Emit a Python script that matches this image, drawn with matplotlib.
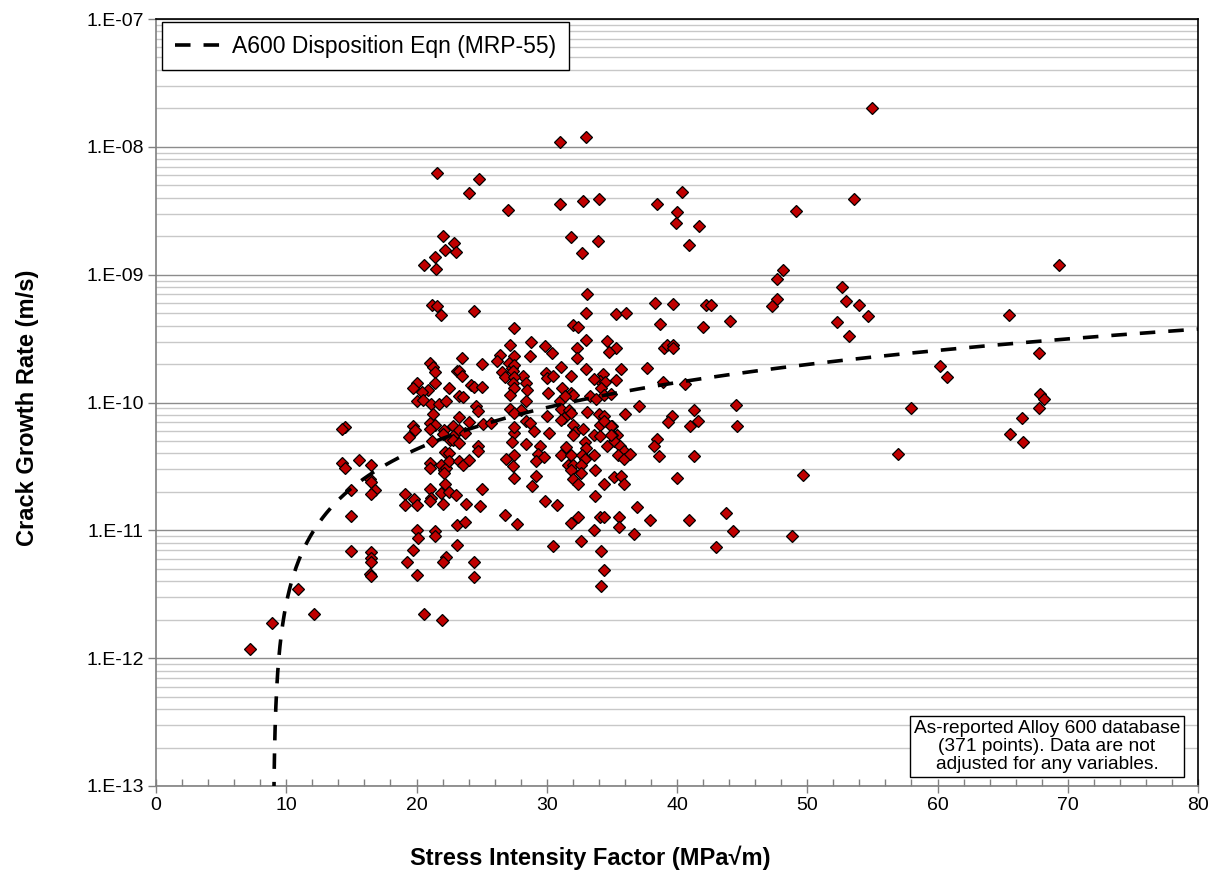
import numpy as np
import matplotlib
matplotlib.use("Agg")
import matplotlib.pyplot as plt
from matplotlib.ticker import FixedLocator, MultipleLocator, FuncFormatter, NullFormatter

plt.rcParams['font.family'] = ['Liberation Sans', 'DejaVu Sans']

# MRP-55 disposition curve constants (325 C)
alpha = 2.67e-12
beta = 1.16
k_th = 9.0

# as-reported Alloy 600 data: K (MPa*sqrt(m)) and log10 of rate (m/s)
k_high = [55.0, 53.6, 49.1, 69.3, 48.1, 47.7, 52.7, 47.7, 47.3, 53.0, 54.0,
          31.0, 33.0, 21.6, 24.8, 24.0, 27.0, 31.0, 32.8, 34.0, 38.5, 40.4, 40.0,
          39.9, 41.7, 40.9, 22.0, 22.9, 22.2, 23.0, 21.4, 20.6, 21.5, 31.9, 33.9,
          32.7, 33.1, 38.3, 39.7, 42.2, 42.6]
log_high = [-7.70, -8.405, -8.504, -8.928, -8.967, -9.035, -9.095, -9.194, -9.249, -9.207, -9.236,
            -7.959, -7.922, -8.204, -8.253, -8.360, -8.496, -8.444, -8.423, -8.407, -8.444, -8.355, -8.509,
            -8.592, -8.623, -8.767, -8.696, -8.751, -8.808, -8.824, -8.863, -8.923, -8.957, -8.709, -8.738,
            -8.829, -9.155, -9.220, -9.231, -9.236, -9.236]

k_right = [42.0, 44.1, 52.3, 54.7, 53.2, 65.5, 67.8, 60.2, 60.7, 67.9, 68.2, 67.8,
           44.5, 44.6, 58.0, 66.5, 65.6, 66.6, 57.0, 49.7, 43.8, 44.3, 48.8, 43.0]
log_right = [-9.413, -9.359, -9.372, -9.325, -9.476, -9.319, -9.614, -9.716, -9.804, -9.932, -9.971, -10.044,
             -10.021, -10.185, -10.044, -10.122, -10.245, -10.310, -10.404, -10.570, -10.865, -11.003, -11.045, -11.128]

k_mid_right = [35.3, 36.1, 38.7, 39.0, 39.2, 39.7, 39.7, 35.7, 37.7, 38.9, 40.6, 37.1,
               36.0, 39.6, 39.3, 41.3, 41.65, 41.0,
               35.0, 35.4, 35.0, 35.2, 35.6, 35.9, 35.5, 35.9, 36.4, 38.5, 38.2, 38.65,
               41.3, 35.2, 35.7, 35.9, 40.0, 36.9, 35.55, 35.55, 37.9, 40.9, 36.7]
log_mid_right = [-9.309, -9.301, -9.385, -9.575, -9.549, -9.549, -9.575, -9.739, -9.731, -9.836, -9.856, -10.026,
                 -10.091, -10.104, -10.156, -10.057, -10.143, -10.182,
                 -10.182, -10.252, -10.252, -10.304, -10.338, -10.383, -10.409, -10.443, -10.403, -10.284, -10.338, -10.422,
                 -10.416, -10.586, -10.578, -10.635, -10.591, -10.818, -10.899, -10.977, -10.922, -10.922, -11.032]

k_mid = [33.0, 32.0, 32.4, 28.8, 29.9, 30.4, 33.0, 34.6, 32.3, 35.3, 34.8, 28.7,
         32.3, 31.1, 33.0, 29.95, 30.0, 30.5, 31.9, 34.3, 34.1, 34.5, 33.6, 35.3,
         28.2, 28.4, 28.5, 31.2, 31.9, 32.0, 30.1, 33.3, 33.8, 34.2, 34.4, 34.9,
         31.0, 31.4, 28.4, 28.0, 31.1, 31.7, 31.9, 30.0, 31.3, 33.1, 34.0, 34.4,
         28.4, 28.7, 29.0, 30.2, 31.1, 32.0, 32.2, 32.0, 32.8, 34.1, 34.4, 34.9,
         33.6, 34.1, 34.9, 34.6, 28.4, 29.5, 29.3, 29.2, 29.8, 31.5, 32.9, 33.0,
         31.1, 31.9, 32.7, 33.6, 32.9, 31.6, 32.0, 31.9, 32.6, 32.6, 33.7, 29.2,
         28.9, 32.0, 32.4, 34.4, 29.9, 30.8, 33.7, 32.4, 31.9, 34.1, 34.4, 33.6]
log_mid = [-9.296, -9.392, -9.413, -9.528, -9.557, -9.609, -9.510, -9.515, -9.575, -9.570, -9.606, -9.635,
           -9.653, -9.723, -9.739, -9.770, -9.809, -9.791, -9.791, -9.776, -9.828, -9.836, -9.815, -9.823,
           -9.791, -9.849, -9.901, -9.888, -9.927, -9.940, -9.922, -9.953, -9.974, -9.888, -9.940, -9.932,
           -9.992, -9.953, -9.992, -10.062, -10.052, -10.057, -10.083, -10.104, -10.122, -10.075, -10.088, -10.109,
           -10.148, -10.161, -10.221, -10.239, -10.135, -10.174, -10.234, -10.252, -10.208, -10.174, -10.148, -10.187,
           -10.252, -10.265, -10.252, -10.343, -10.325, -10.343, -10.403, -10.461, -10.429, -10.349, -10.312, -10.357,
           -10.409, -10.409, -10.409, -10.409, -10.443, -10.487, -10.487, -10.526, -10.487, -10.552, -10.526, -10.578,
           -10.656, -10.599, -10.638, -10.638, -10.773, -10.799, -10.734, -10.893, -10.943, -10.896, -10.896, -10.995]

k_mid_left = [21.2, 21.6, 21.9, 24.4, 27.5, 27.2, 27.5, 23.5, 25.0, 26.4, 26.2, 27.1,
              27.3, 27.5, 21.0, 21.3, 21.4, 23.1, 23.3, 23.5, 26.6, 26.8, 27.4, 27.5,
              20.0, 19.7, 21.4, 20.9, 20.4, 22.5, 24.2, 24.4, 25.0, 27.4, 27.5, 27.2,
              23.3, 23.6, 20.0, 20.5, 21.1, 21.7, 22.3, 24.6, 24.7, 27.2, 27.5, 21.3,
              23.3,
              21.0, 21.4, 21.0, 22.1, 22.0, 22.8, 23.3, 23.7, 24.0, 25.1, 25.7, 22.8,
              22.6, 22.8, 23.3, 21.2, 24.7, 24.7, 22.2, 22.5, 27.5, 27.5, 27.3, 27.5,
              26.9, 27.4, 21.0, 21.0, 21.9, 22.1, 22.3, 22.5, 23.3, 23.6, 24.0, 22.1,
              27.5, 22.2, 21.0, 21.9, 22.5, 23.0, 25.0, 21.1, 21.0, 19.8, 20.0, 22.0,
              23.8, 24.9, 26.8, 27.75, 23.1, 23.7, 20.0, 21.4, 20.1, 21.4]
log_mid_left = [-9.236, -9.244, -9.312, -9.283, -9.419, -9.549, -9.635, -9.653, -9.700, -9.632, -9.674, -9.692,
                -9.731, -9.705, -9.692, -9.726, -9.763, -9.757, -9.750, -9.796, -9.765, -9.804, -9.757, -9.797,
                -9.849, -9.888, -9.849, -9.901, -9.914, -9.888, -9.861, -9.880, -9.880, -9.849, -9.888, -9.940,
                -9.953, -9.958, -9.992, -9.979, -10.010, -10.010, -9.987, -10.026, -10.070, -10.052, -10.083, -10.091,
                -10.114,
                -10.161, -10.174, -10.208, -10.213, -10.244, -10.187, -10.213, -10.239, -10.156, -10.169, -10.161, -10.260,
                -10.297, -10.297, -10.317, -10.304, -10.343, -10.383, -10.390, -10.396, -10.239, -10.192, -10.312, -10.409,
                -10.440, -10.500, -10.474, -10.513, -10.487, -10.531, -10.513, -10.461, -10.461, -10.492, -10.448, -10.552,
                -10.591, -10.638, -10.675, -10.708, -10.703, -10.721, -10.675, -10.747, -10.774, -10.755, -10.800, -10.792,
                -10.792, -10.813, -10.883, -10.953, -10.956, -10.938, -10.995, -11.003, -11.060, -11.047]

k_left = [14.5, 14.3, 19.7, 19.9, 19.4, 14.3, 14.5, 15.6, 16.5, 16.45, 16.5, 16.8,
          16.5, 15.0, 19.1, 19.1, 15.0]
log_left = [-10.195, -10.211, -10.182, -10.219, -10.271, -10.477, -10.513, -10.451, -10.492, -10.602, -10.620, -10.683,
            -10.719, -10.688, -10.719, -10.805, -10.886]

k_low = [15.0, 16.5, 16.5, 16.5, 16.4, 16.5, 19.7, 19.3, 20.0, 20.6, 21.95, 22.3,
         22.0, 23.1, 24.4, 24.4, 30.45, 32.6, 34.2, 34.4, 34.2, 10.9, 12.1, 8.9, 7.2]
log_low = [-11.159, -11.172, -11.216, -11.248, -11.344, -11.354, -11.156, -11.245, -11.352, -11.652, -11.701, -11.209,
           -11.250, -11.112, -11.250, -11.365, -11.122, -11.083, -11.159, -11.310, -11.438, -11.459, -11.652, -11.725, -11.930]

k_all = np.array(k_high + k_right + k_mid_right + k_mid + k_mid_left + k_left + k_low)
rate_all = 10.0 ** np.array(log_high + log_right + log_mid_right + log_mid + log_mid_left + log_left + log_low)

# disposition curve
k_curve = k_th + np.geomspace(1e-3, 80 - k_th, 600)
rate_curve = alpha * (k_curve - k_th) ** beta

fig = plt.figure(figsize=(12.24, 8.82), dpi=100)
ax = fig.add_axes([156 / 1224, 1 - 786 / 882, (1198 - 156) / 1224, (786 - 19) / 882])

ax.set_yscale('log')
ax.set_xlim(0, 80)
ax.set_ylim(1e-13, 1e-7)

ax.yaxis.set_major_locator(FixedLocator([10.0 ** e for e in range(-13, -6)]))
ax.yaxis.set_minor_locator(FixedLocator([m * 10.0 ** e for e in range(-13, -7) for m in range(2, 10)]))
ax.yaxis.set_major_formatter(FuncFormatter(lambda v, p: "1.E%03d" % int(round(np.log10(v)))))
ax.yaxis.set_minor_formatter(NullFormatter())
ax.xaxis.set_major_locator(MultipleLocator(10))
ax.xaxis.set_minor_locator(MultipleLocator(2))

ax.grid(True, which='major', axis='y', color='#8c8c8c', lw=1.0)
ax.grid(True, which='minor', axis='y', color='#c8c8c8', lw=1.0)
ax.set_axisbelow(True)

ax.tick_params(axis='y', which='major', direction='out', length=6, width=1, color='#808080',
               labelsize=14, pad=3)
ax.tick_params(axis='y', which='minor', length=0)
ax.tick_params(axis='x', which='major', direction='inout', length=10, width=1, color='#808080',
               labelsize=14, pad=3)
ax.tick_params(axis='x', which='minor', direction='in', length=5, width=1, color='#808080')

for side in ['left', 'bottom']:
    ax.spines[side].set_color('#808080')
for side in ['top', 'right']:
    ax.spines[side].set_color('black')
for s in ax.spines.values():
    s.set_linewidth(1.2)

ax.plot(k_all, rate_all, ls='none', marker='D', markersize=6, markerfacecolor='#c00000',
        markeredgecolor='black', markeredgewidth=0.9, zorder=3)
ax.plot(k_curve, rate_curve, color='black', lw=2.6, dashes=(4.3, 3.6),
        label='A600 Disposition Eqn (MRP-55)', zorder=4)

leg = ax.legend(loc='upper left', bbox_to_anchor=(0.006, 0.996), fontsize=16.5, frameon=True,
                fancybox=False, edgecolor='black', framealpha=1, handlelength=2.0,
                borderpad=0.55, handletextpad=0.5, borderaxespad=0)
leg.get_frame().set_linewidth(1.0)

ax.text(0.855, 0.017, "As-reported Alloy 600 database\n(371 points). Data are not\nadjusted for any variables.",
        transform=ax.transAxes, ha='center', va='bottom', fontsize=13.8, linespacing=1.08,
        bbox=dict(boxstyle='square,pad=0.22', facecolor='white', edgecolor='black', lw=1.0), zorder=5)

ax.set_xlabel('Stress Intensity Factor (MPa\u221am)', fontsize=17, fontweight='bold')
ax.set_ylabel('Crack Growth Rate (m/s)', fontsize=17, fontweight='bold')
ax.xaxis.set_label_coords(0.4165, -0.078)
ax.yaxis.set_label_coords(-0.112, 0.493)

fig.savefig('out.png', dpi=100)
